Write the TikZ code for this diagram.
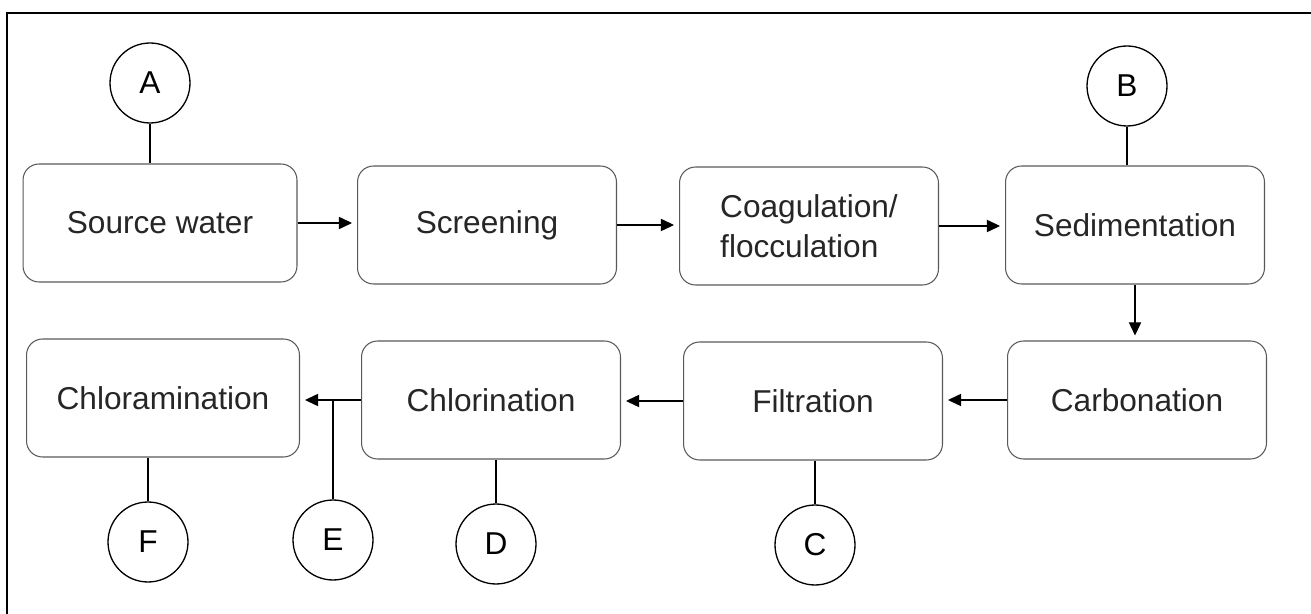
\documentclass[tikz,border=0pt]{standalone}
\usepackage{fontspec}
\setmainfont{Liberation Sans}
\usetikzlibrary{arrows.meta}

\begin{document}
\begin{tikzpicture}[x=0.02cm, y=-0.02cm,
	stage/.style={draw=black!65, line width=0.6pt, rounded corners=0.32cm,
		minimum width=5.18cm, minimum height=2.36cm, inner sep=0pt,
		text=black!85, font=\fontsize{18}{23}\selectfont},
	tag/.style={draw, circle, line width=0.75pt, minimum size=1.6cm,
		inner sep=0pt, font=\fontsize{18}{22}\selectfont},
	flow/.style={line width=0.6pt, shorten >=0.1cm,
		-{Triangle[length=7.5pt,width=7pt]}},
	link/.style={line width=0.6pt}]
	%%%%% FRAME %%%%%
	\useasboundingbox (0,0) rectangle (1311,614);
	\draw[line width=1.1pt] (7,614) -- (7,13) -- (1311,13);
	
	%%%%% TOP ROW %%%%%
	\node[stage, minimum width=5.48cm] (src) at (160,223) {Source water};
	\node[stage] (scr) at (487,225) {Screening};
	\node[stage, align=left] (coag) at (809,226) {Coagulation/\\flocculation};
	\node[stage] (sed) at (1135,225) {Sedimentation};
	
	%%%%% BOTTOM ROW %%%%%
	\node[stage] (carb) at (1137,400) {Carbonation};
	\node[stage] (filt) at (813,401) {Filtration};
	\node[stage] (chlor) at (491,400) {Chlorination};
	\node[stage, minimum width=5.46cm] (chlam) at (163,398) {Chloramination};
	
	%%%%% TAGS %%%%%
	\node[tag] (A) at (150,83) {A};
	\node[tag] (B) at (1127,86) {B};
	\node[tag] (C) at (815,545) {C};
	\node[tag] (D) at (496,544) {D};
	\node[tag] (E) at (333,540) {E};
	\node[tag] (F) at (148,542) {F};
	
	%%%%% FLOW %%%%%
	\draw[flow] (src.east) -- (src.east -| scr.west);
	\draw[flow] (scr.east) -- (scr.east -| coag.west);
	\draw[flow] (coag.east) -- (coag.east -| sed.west);
	\draw[flow] (sed.south) -- (sed.south |- carb.north);
	\draw[flow] (carb.west) -- (carb.west -| filt.east);
	\draw[flow] (filt.west) -- (filt.west -| chlor.east);
	\draw[flow] (chlor.west) -- (chlor.west -| chlam.east);
	
	%%%%% LINKS %%%%%
	\draw[link] (A.south) -- (A.south |- src.north);
	\draw[link] (B.south) -- (B.south |- sed.north);
	\draw[link] (C.north) -- (C.north |- filt.south);
	\draw[link] (D.north) -- (D.north |- chlor.south);
	\draw[link] (E.north) -- (E.north |- chlor.west);
	\draw[link] (F.north) -- (F.north |- chlam.south);
\end{tikzpicture}
\end{document}
